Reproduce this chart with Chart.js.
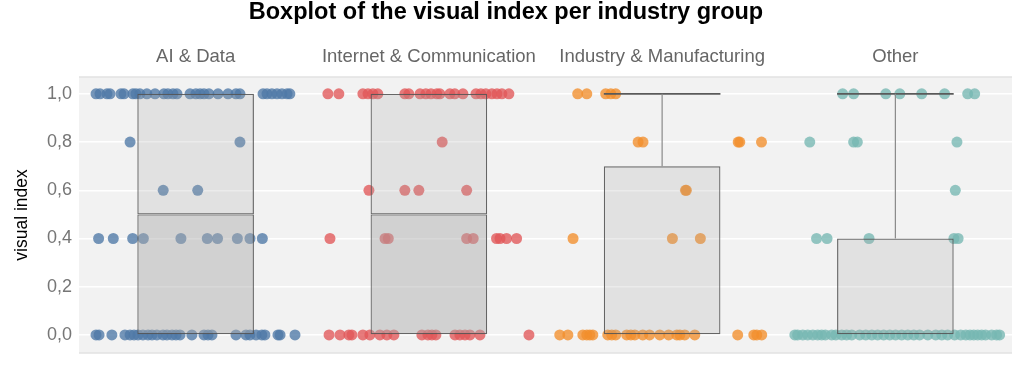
<!DOCTYPE html>
<html>
<head>
<meta charset="utf-8">
<script src="https://cdn.jsdelivr.net/npm/chart.js@4.4.1/dist/chart.umd.min.js"></script>
<style>
  html, body { margin: 0; padding: 0; background: #ffffff; }
  #wrap { width: 1024px; height: 369px; }
</style>
</head>
<body>
<div id="wrap"><canvas id="c" width="1024" height="369"></canvas></div>
<script>
// ---------- data ----------
const categories = ['AI & Data', 'Internet & Communication', 'Industry & Manufacturing', 'Other'];
const colors = ['#4e79a7', '#e15759', '#f28e2b', '#76b7b2'];
const yTicks = [0, 0.2, 0.4, 0.6, 0.8, 1.0];

// box statistics per category
const q1 = [0, 0, 0, 0];
const median = [0.5, 0.5, 0, 0];
const q3 = [1.0, 1.0, 0.7, 0.4];
const whiskerHigh = [1.0, 1.0, 1.0, 1.0];

// jittered observations: [value, [x positions]]
const aiPoints = [
  [1.0, [0.073,0.090,0.120,0.133,0.180,0.193,0.231,0.244,0.261,0.291,0.326,0.364,0.381,0.403,0.420,0.476,0.501,0.519,0.536,0.557,0.596,0.639,0.673,0.690,0.789,0.806,0.827,0.849,0.870,0.892,0.904]],
  [0.8, [0.219,0.690]],
  [0.6, [0.361,0.509]],
  [0.4, [0.084,0.147,0.230,0.276,0.437,0.550,0.594,0.679,0.733,0.786]],
  [0.0, [0.073,0.086,0.141,0.197,0.219,0.236,0.253,0.274,0.296,0.313,0.334,0.360,0.377,0.399,0.416,0.433,0.484,0.536,0.553,0.570,0.673,0.716,0.733,0.759,0.784,0.797,0.853,0.862,0.926]]
];
const internetPoints = [
  [1.0, [1.067,1.114,1.217,1.239,1.260,1.281,1.397,1.414,1.462,1.487,1.509,1.534,1.547,1.590,1.611,1.646,1.702,1.723,1.744,1.770,1.792,1.813,1.843]],
  [0.8, [1.557]],
  [0.6, [1.243,1.397,1.457,1.662]],
  [0.4, [1.076,1.312,1.326,1.662,1.690,1.790,1.805,1.833,1.876]],
  [0.0, [1.072,1.119,1.157,1.170,1.217,1.247,1.290,1.320,1.350,1.470,1.496,1.513,1.530,1.612,1.633,1.655,1.676,1.719,1.929]]
];
const industryPoints = [
  [1.0, [2.138,2.177,2.258,2.280,2.301]],
  [0.8, [2.397,2.418,2.826,2.833,2.926]],
  [0.6, [2.600,2.604]],
  [0.4, [2.118,2.544,2.664]],
  [0.0, [2.061,2.096,2.160,2.177,2.190,2.203,2.267,2.284,2.301,2.348,2.366,2.383,2.417,2.446,2.490,2.528,2.563,2.576,2.597,2.640,2.824,2.893,2.906,2.927]]
];
const otherPoints = [
  [1.0, [3.274,3.321,3.459,3.519,3.613,3.711,3.810,3.840]],
  [0.8, [3.133,3.321,3.337,3.764]],
  [0.6, [3.757]],
  [0.4, [3.162,3.207,3.387,3.751,3.769]],
  [0.0, [3.069,3.081,3.103,3.124,3.146,3.167,3.184,3.200,3.227,3.245,3.270,3.291,3.313,3.347,3.373,3.399,3.424,3.450,3.476,3.501,3.527,3.553,3.579,3.604,3.639,3.673,3.699,3.724,3.754,3.780,3.802,3.820,3.836,3.853,3.870,3.887,3.913,3.934,3.947]]
];
const pointGroups = [aiPoints, internetPoints, industryPoints, otherPoints];

// ---------- build datasets ----------
function hexA(hex, a) {
  const n = parseInt(hex.slice(1), 16);
  return `rgba(${(n >> 16) & 255},${(n >> 8) & 255},${n & 255},${a})`;
}
const centers = categories.map((_, i) => i + 0.5);
const halfBox = 0.25;

const datasets = [];
pointGroups.forEach((grp, i) => {
  const data = [];
  grp.forEach(([v, xs]) => xs.forEach(x => data.push({ x: x, y: v })));
  datasets.push({
    type: 'scatter', data, order: 5,
    backgroundColor: hexA(colors[i], 0.78), borderWidth: 0,
    pointRadius: 5.5, pointHoverRadius: 5.5
  });
});

// boxes (floating bars)
const lowerBox = [], upperBox = [];
centers.forEach((c, i) => {
  if (median[i] > q1[i]) lowerBox.push({ x: c, y: [q1[i], median[i]] });
  if (q3[i] > median[i]) upperBox.push({ x: c, y: [median[i], q3[i]] });
});
const barCommon = {
  type: 'bar', grouped: false, barPercentage: 0.5, categoryPercentage: 1.0,
  borderColor: 'rgba(85,85,85,0.9)', borderWidth: 1.2, borderSkipped: false, order: 2
};
datasets.push(Object.assign({ data: lowerBox, backgroundColor: 'rgba(170,170,170,0.46)' }, barCommon));
datasets.push(Object.assign({ data: upperBox, backgroundColor: 'rgba(170,170,170,0.23)' }, barCommon));

// whiskers
const whiskerData = [], capData = [];
centers.forEach((c, i) => {
  if (whiskerHigh[i] > q3[i]) {
    whiskerData.push({ x: c, y: q3[i] }, { x: c, y: whiskerHigh[i] }, { x: c, y: null });
    capData.push({ x: c - halfBox, y: whiskerHigh[i] }, { x: c + halfBox, y: whiskerHigh[i] }, { x: c, y: null });
  }
});
datasets.push({ type: 'scatter', showLine: true, data: whiskerData, borderColor: '#8a8a8a', borderWidth: 1.2, pointRadius: 0, spanGaps: false, order: 1 });
datasets.push({ type: 'scatter', showLine: true, data: capData, borderColor: '#5a5a5a', borderWidth: 1.6, pointRadius: 0, spanGaps: false, order: 1 });

// ---------- panel background plugin ----------
const panelBg = {
  id: 'panelBg',
  beforeDraw(chart) {
    const { ctx, chartArea: a } = chart;
    ctx.save();
    ctx.fillStyle = '#f2f2f2';
    ctx.fillRect(a.left, a.top, a.right - a.left, a.bottom - a.top);
    ctx.strokeStyle = '#e2e2e2';
    ctx.lineWidth = 1.5;
    ctx.beginPath();
    ctx.moveTo(a.left, a.top); ctx.lineTo(a.right, a.top);
    ctx.moveTo(a.left, a.bottom); ctx.lineTo(a.right, a.bottom);
    ctx.stroke();
    ctx.restore();
  }
};

const FONT = "'Liberation Sans', Arial, sans-serif";

new Chart(document.getElementById('c'), {
  data: { datasets },
  plugins: [panelBg],
  options: {
    responsive: false,
    animation: false,
    devicePixelRatio: 1,
    layout: { padding: { left: 0, right: 12, top: 0, bottom: 16 } },
    plugins: {
      legend: { display: false },
      tooltip: { enabled: false },
      title: {
        display: true,
        text: 'Boxplot of the visual index per industry group',
        color: '#000000',
        font: { family: FONT, size: 23.5, weight: 'bold', lineHeight: 1 },
        padding: { top: 1, bottom: 0 }
      }
    },
    scales: {
      x: {
        type: 'linear', min: 0, max: 4, display: false, offset: false,
        afterBuildTicks(scale) { scale.ticks = centers.map(v => ({ value: v })); }
      },
      strip: {
        type: 'category', position: 'top', labels: categories, offset: true,
        grid: { display: false, drawTicks: false }, border: { display: false },
        ticks: { color: '#666666', font: { family: FONT, size: 18.5 }, padding: 9, maxRotation: 0, autoSkip: false },
        afterFit(scale) { scale.height = 52.5; }
      },
      y: {
        type: 'linear', position: 'left', min: -0.075, max: 1.07,
        afterBuildTicks(scale) { scale.ticks = yTicks.map(v => ({ value: v })); },
        afterFit(scale) { scale.width = 79; scale.paddingTop = 0; scale.paddingBottom = 0; },
        grid: { color: '#ffffff', lineWidth: 1.5, drawTicks: false },
        border: { display: false },
        ticks: {
          color: '#767676', padding: 7,
          font: { family: FONT, size: 18 },
          callback: v => v.toFixed(1).replace('.', ',')
        },
        title: {
          display: true, text: 'visual index', color: '#000000',
          font: { family: FONT, size: 17.5 }, padding: { top: 12, bottom: 0 }
        }
      }
    }
  }
});
</script>
</body>
</html>
